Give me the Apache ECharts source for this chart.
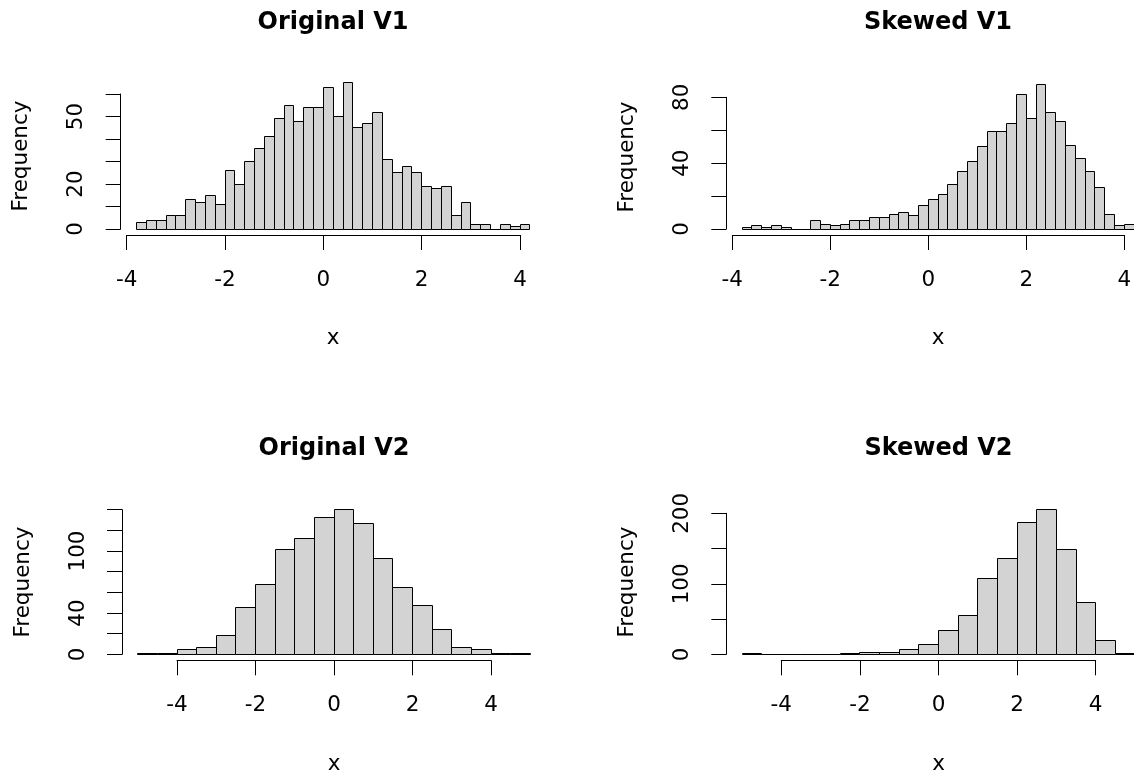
<!DOCTYPE html>
<html>
<head>
<meta charset="utf-8">
<script src="https://cdn.jsdelivr.net/npm/echarts@6/dist/echarts.min.js"></script>
<style>
  html, body { margin: 0; padding: 0; background: #ffffff; }
  #chart { width: 1134px; height: 778px; }
</style>
</head>
<body>
<div id="chart"></div>
<script>
// Histogram break points
const v1Breaks = [-3.8, -3.6, -3.4, -3.2, -3.0, -2.8, -2.6, -2.4, -2.2, -2.0,
                  -1.8, -1.6, -1.4, -1.2, -1.0, -0.8, -0.6, -0.4, -0.2, 0.0,
                  0.2, 0.4, 0.6, 0.8, 1.0, 1.2, 1.4, 1.6, 1.8, 2.0,
                  2.2, 2.4, 2.6, 2.8, 3.0, 3.2, 3.4, 3.6, 3.8, 4.0, 4.2];
const v2Breaks = [-5.0, -4.5, -4.0, -3.5, -3.0, -2.5, -2.0, -1.5, -1.0, -0.5, 0.0,
                  0.5, 1.0, 1.5, 2.0, 2.5, 3.0, 3.5, 4.0, 4.5, 5.0];

// Bin counts
const origV1Counts = [3, 4, 4, 6, 6, 13, 12, 15, 11, 26,
                      20, 30, 36, 41, 49, 55, 48, 54, 54, 63,
                      50, 65, 45, 47, 52, 31, 25, 28, 25, 19,
                      18, 19, 6, 12, 2, 2, 0, 2, 1, 2];
const skewV1Counts = [1, 2, 1, 2, 1, 0, 0, 5, 3, 2,
                      3, 5, 5, 7, 7, 9, 10, 8, 14, 18,
                      21, 27, 35, 41, 50, 59, 59, 64, 82, 67,
                      88, 71, 65, 51, 43, 35, 25, 9, 2, 3];
const origV2Counts = [1, 1, 5, 7, 18, 45, 68, 101, 112, 132,
                      140, 127, 93, 65, 47, 24, 7, 5, 1, 1];
const skewV2Counts = [1, 0, 0, 0, 0, 1, 3, 3, 7, 14,
                      34, 55, 107, 136, 187, 205, 148, 74, 20, 1];

// Axis ticks and the tick labels that are printed
const xTicks = [-4, -2, 0, 2, 4];
const origV1YTicks = [0, 10, 20, 30, 40, 50, 60];
const skewV1YTicks = [0, 20, 40, 60, 80];
const origV2YTicks = [0, 20, 40, 60, 80, 100, 120, 140];
const skewV2YTicks = [0, 50, 100, 150, 200];
const origV1YLabels = [0, 20, 50];
const skewV1YLabels = [0, 40, 80];
const origV2YLabels = [0, 40, 100];
const skewV2YLabels = [0, 100, 200];

const titles = ['Original V1', 'Skewed V1', 'Original V2', 'Skewed V2'];

const FONT = '"DejaVu Sans", "Liberation Sans", Arial, sans-serif';
const LABEL_SIZE = 21.5;

// Panel layout: grid spans the tick range of each axis
const panels = [
  { breaks: v1Breaks, counts: origV1Counts, yTicks: origV1YTicks, yLabels: origV1YLabels,
    left: 126.7, width: 393.3, top: 94, height: 135, xOffset: 6, yOffset: 6,
    cx: 333, titleY: 23, freqY: 156, xNameY: 338 },
  { breaks: v1Breaks, counts: skewV1Counts, yTicks: skewV1YTicks, yLabels: skewV1YLabels,
    left: 732.3, width: 392, top: 97.3, height: 131.7, xOffset: 6, yOffset: 6,
    cx: 938, titleY: 23, freqY: 157, xNameY: 338 },
  { breaks: v2Breaks, counts: origV2Counts, yTicks: origV2YTicks, yLabels: origV2YLabels,
    left: 177, width: 314, top: 509.7, height: 144.6, xOffset: 6, yOffset: 55,
    cx: 334, titleY: 449, freqY: 582, xNameY: 764 },
  { breaks: v2Breaks, counts: skewV2Counts, yTicks: skewV2YTicks, yLabels: skewV2YLabels,
    left: 781.3, width: 314.4, top: 513.3, height: 141, xOffset: 6, yOffset: 55,
    cx: 938.5, titleY: 449, freqY: 582, xNameY: 764 }
];

function crisp(v) { return Math.round(v - 0.5) + 0.5; }

function renderBin(params, api) {
  const tl = api.coord([api.value(0), api.value(2)]);
  const br = api.coord([api.value(1), 0]);
  const x0 = crisp(tl[0]), x1 = crisp(br[0]);
  const y0 = crisp(tl[1]), y1 = crisp(br[1]);
  return {
    type: 'rect',
    shape: { x: x0, y: y0, width: x1 - x0, height: y1 - y0 },
    style: { fill: '#d3d3d3', stroke: '#000000', lineWidth: 1 }
  };
}

const grid = [], xAxis = [], yAxis = [], series = [], graphic = [];

panels.forEach((p, i) => {
  grid.push({
    left: p.left, top: p.top, width: p.width, height: p.height,
    containLabel: false, outerBoundsMode: 'none'
  });
  xAxis.push({
    gridIndex: i, type: 'value', position: 'bottom',
    min: xTicks[0], max: xTicks[xTicks.length - 1], interval: xTicks[1] - xTicks[0],
    offset: p.xOffset,
    axisLine: { show: true, onZero: false, lineStyle: { color: '#000', width: 1 } },
    axisTick: { show: true, inside: false, length: 15, lineStyle: { color: '#000', width: 1 } },
    axisLabel: { show: true, margin: 34, color: '#000', fontFamily: FONT, fontSize: LABEL_SIZE,
                 showMinLabel: true, showMaxLabel: true },
    splitLine: { show: false }
  });
  yAxis.push({
    gridIndex: i, type: 'value', position: 'left',
    min: p.yTicks[0], max: p.yTicks[p.yTicks.length - 1], interval: p.yTicks[1] - p.yTicks[0],
    offset: p.yOffset,
    axisLine: { show: true, onZero: false, lineStyle: { color: '#000', width: 1 } },
    axisTick: { show: true, inside: false, length: 15, lineStyle: { color: '#000', width: 1 } },
    axisLabel: {
      show: true, rotate: 90, margin: 33, color: '#000', fontFamily: FONT, fontSize: LABEL_SIZE,
      showMinLabel: true, showMaxLabel: true,
      formatter: v => (p.yLabels.includes(v) ? String(v) : '')
    },
    splitLine: { show: false }
  });
  series.push({
    type: 'custom',
    xAxisIndex: i, yAxisIndex: i,
    clip: false,
    renderItem: renderBin,
    encode: { x: [0, 1], y: 2 },
    data: p.counts.map((c, k) => [p.breaks[k], p.breaks[k + 1], c])
  });

  graphic.push({
    type: 'text', x: p.cx, y: p.titleY, silent: true,
    style: { text: titles[i], fill: '#000', font: 'bold 24px ' + FONT,
             textAlign: 'center', textVerticalAlign: 'middle' }
  });
  graphic.push({
    type: 'text', x: p.cx, y: p.xNameY, silent: true,
    style: { text: 'x', fill: '#000', font: LABEL_SIZE + 'px ' + FONT,
             textAlign: 'center', textVerticalAlign: 'middle' }
  });
  graphic.push({
    type: 'text', x: p.left - p.yOffset - 99, y: p.freqY, rotation: Math.PI / 2, silent: true,
    style: { text: 'Frequency', fill: '#000', font: LABEL_SIZE + 'px ' + FONT,
             textAlign: 'center', textVerticalAlign: 'middle' }
  });
});

const chart = echarts.init(document.getElementById('chart'), null, { renderer: 'canvas' });
chart.setOption({
  backgroundColor: '#ffffff',
  animation: false,
  grid, xAxis, yAxis, series, graphic
});
</script>
</body>
</html>
